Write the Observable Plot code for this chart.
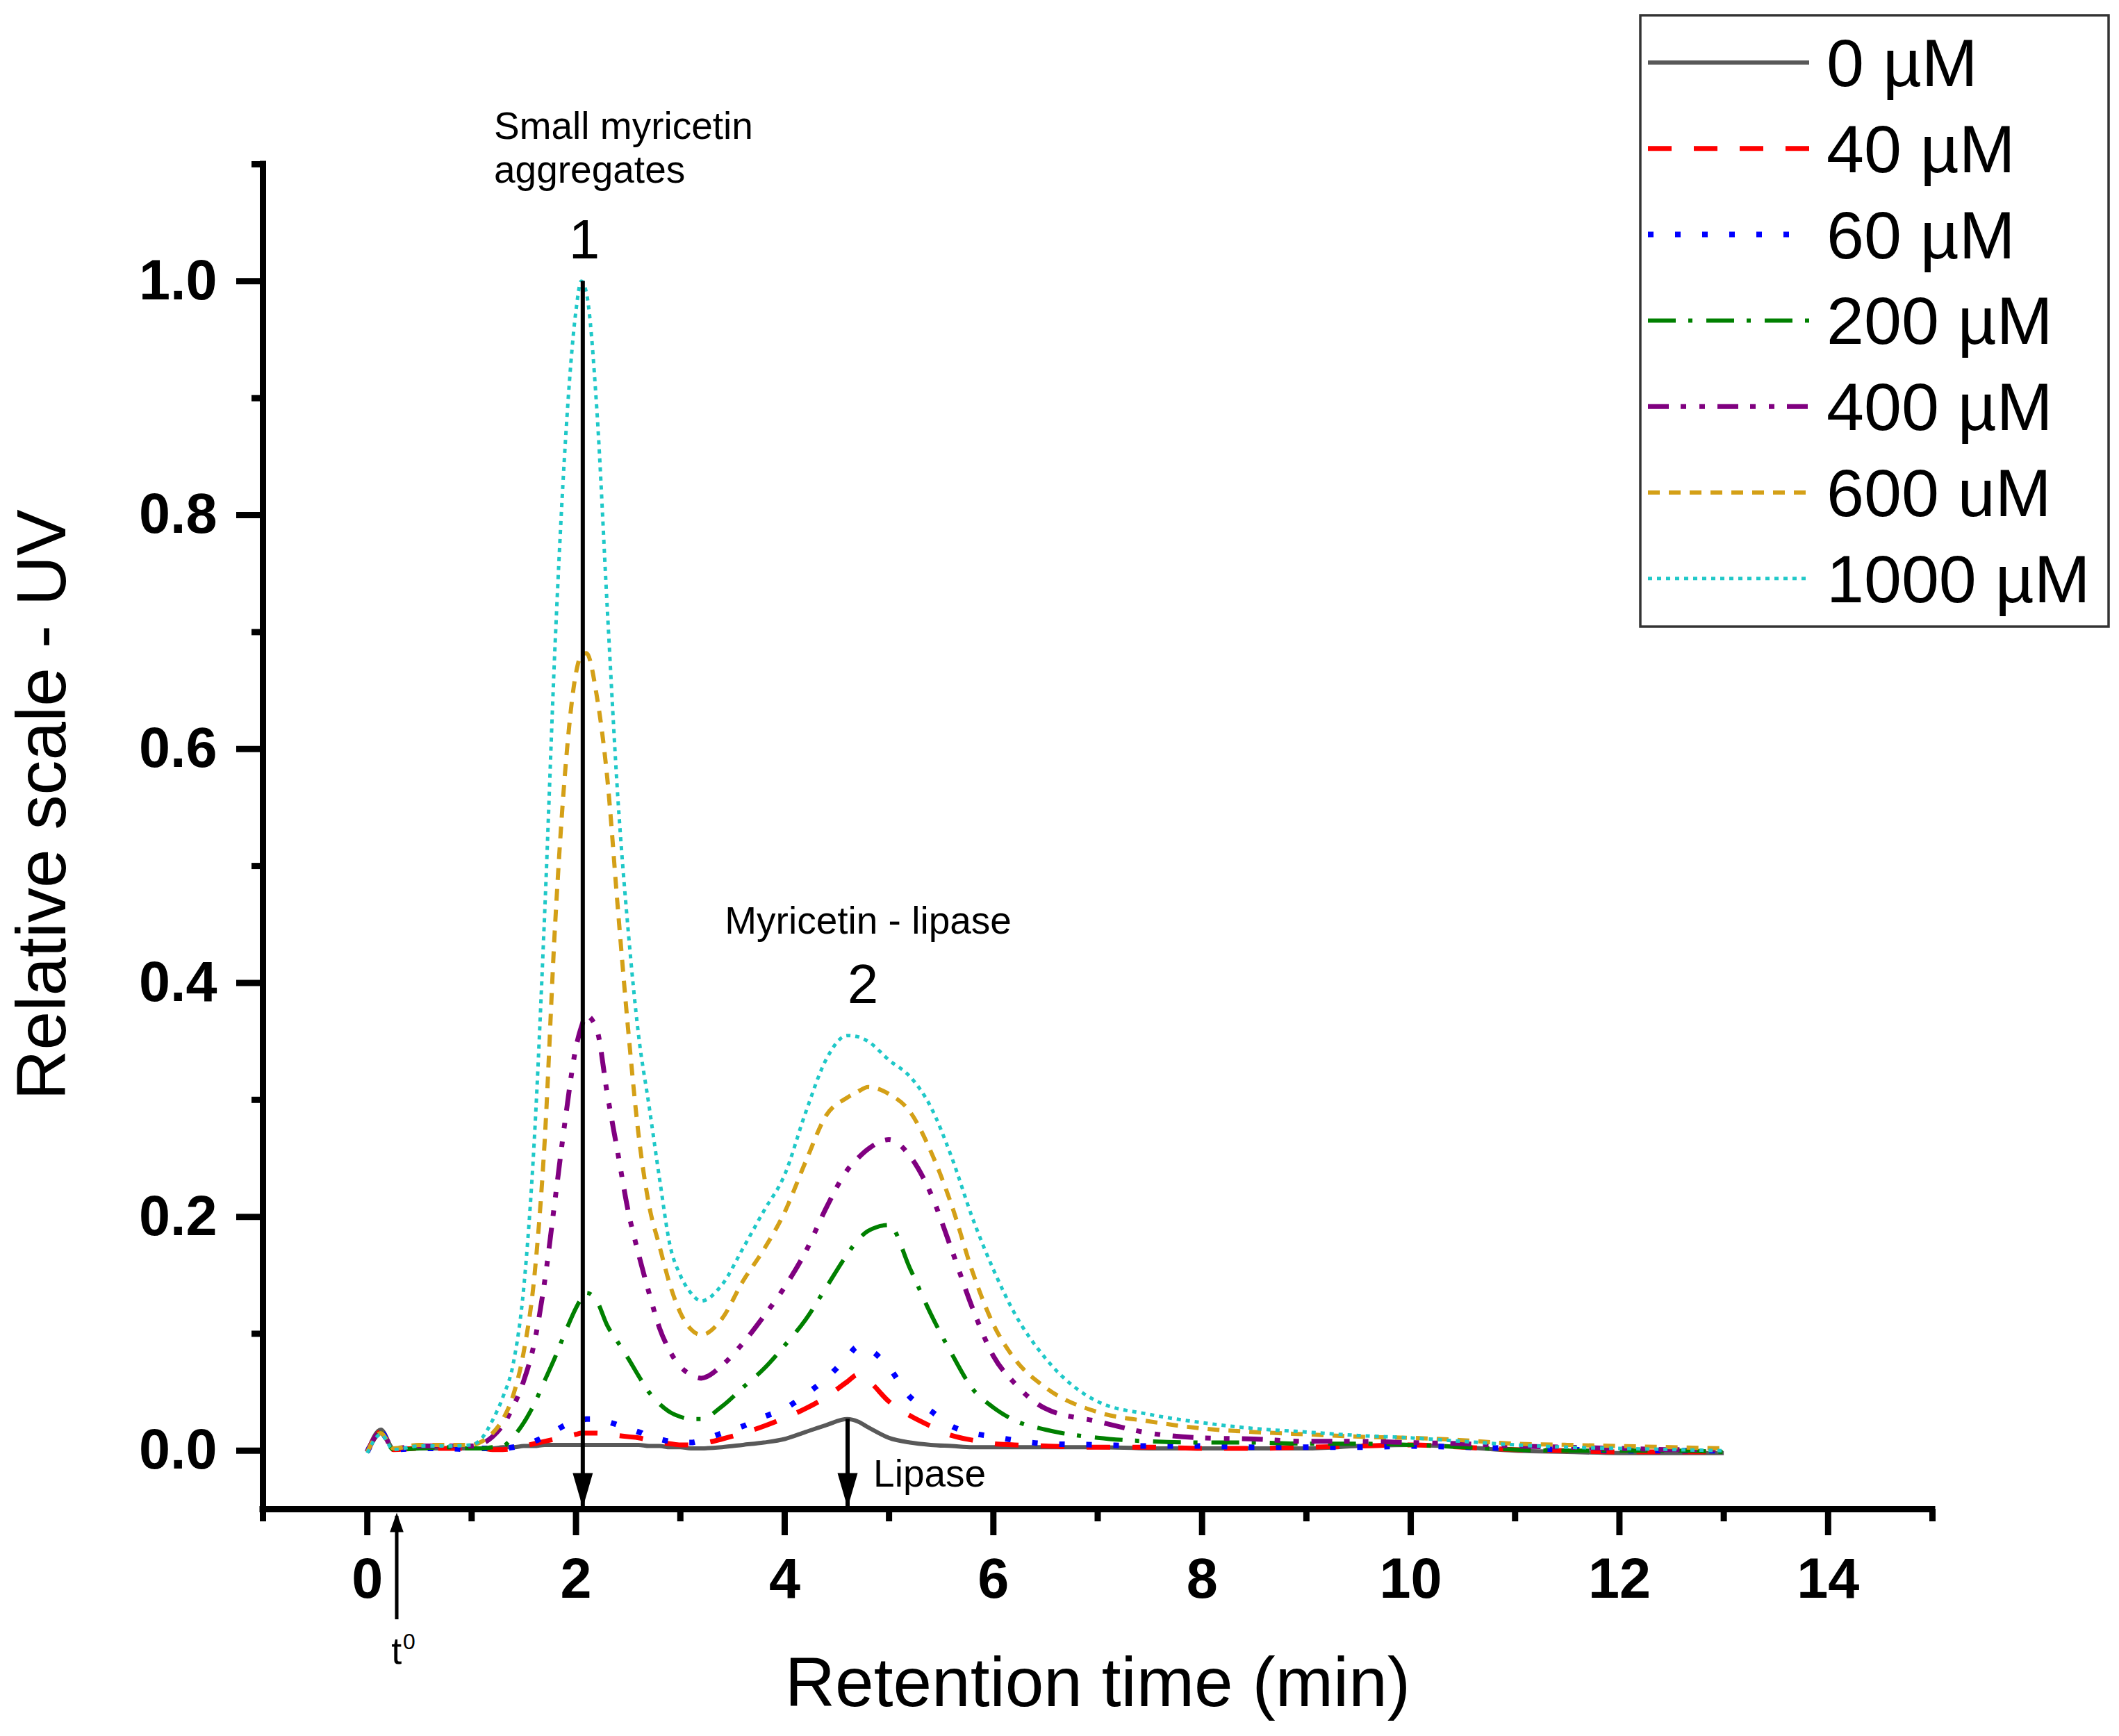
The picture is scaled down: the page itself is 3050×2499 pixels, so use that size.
<!DOCTYPE html>
<html>
<head>
<meta charset="utf-8">
<script src="https://cdn.jsdelivr.net/npm/d3@7"></script>
<script src="https://cdn.jsdelivr.net/npm/@observablehq/plot@0.6"></script>
<style>
  html, body { margin: 0; padding: 0; background: #fff; }
  #chart { position: relative; width: 3050px; height: 2499px; font-family: "Liberation Sans", Arial, sans-serif; }
  #chart svg { display: block; }
</style>
</head>
<body>
<div id="chart"></div>
<script>
// retention time grid (min)
const times = [0, 0.13, 0.25, 0.5, 0.75,
  1.0, 1.1, 1.2, 1.3, 1.4, 1.5, 1.6, 1.7, 1.8, 1.9, 2.0,
  2.05,
  2.1, 2.2, 2.3, 2.4, 2.5, 2.6, 2.7, 2.8, 2.9, 3.0, 3.1, 3.2,
  3.4, 3.6, 3.8, 4.0, 4.2, 4.4, 4.6,
  4.7,
  4.8, 5.0, 5.2, 5.4, 5.6, 5.8, 6.0, 6.2,
  6.5,
  7.0, 7.5, 8.0, 8.5, 9.0, 9.5, 10.0, 10.5, 11.0, 11.5, 12.0, 12.5, 13.0];

const uv0 = [-0.001, 0.018, 0.002, 0.002, 0.002,
  0.002, 0.002, 0.002, 0.003, 0.003, 0.004, 0.004, 0.005, 0.005, 0.005, 0.005,
  0.005,
  0.005, 0.005, 0.005, 0.005, 0.005, 0.005, 0.004, 0.004, 0.003, 0.003, 0.002, 0.002,
  0.003, 0.005, 0.007, 0.010, 0.016, 0.022, 0.027,
  0.025,
  0.020, 0.011, 0.007, 0.005, 0.004, 0.003, 0.003, 0.003,
  0.003,
  0.003, 0.002, 0.002, 0.002, 0.002, 0.004, 0.005, 0.003, 0.000, -0.001, -0.002, -0.002, -0.002];

const uv40 = [-0.001, 0.016, 0.001, 0.002, 0.002,
  0.002, 0.002, 0.001, 0.001, 0.002, 0.004, 0.006, 0.008, 0.010, 0.012, 0.014,
  0.015,
  0.015, 0.015, 0.014, 0.013, 0.012, 0.011, 0.009, 0.007, 0.006, 0.005, 0.005, 0.006,
  0.010, 0.015, 0.021, 0.028, 0.036, 0.046, 0.059,
  0.065,
  0.060, 0.042, 0.030, 0.021, 0.013, 0.009, 0.006, 0.005,
  0.004,
  0.003, 0.003, 0.002, 0.002, 0.003, 0.004, 0.005, 0.003, 0.001, 0.000, -0.001, -0.001, -0.001];

const uv60 = [-0.001, 0.016, 0.001, 0.002, 0.002,
  0.001, 0.002, 0.002, 0.002, 0.003, 0.005, 0.008, 0.012, 0.017, 0.022, 0.025,
  0.026,
  0.027, 0.027, 0.025, 0.022, 0.019, 0.016, 0.013, 0.010, 0.008, 0.007, 0.007, 0.009,
  0.015, 0.021, 0.029, 0.036, 0.048, 0.062, 0.080,
  0.089,
  0.087, 0.071, 0.046, 0.034, 0.021, 0.015, 0.012, 0.009,
  0.006,
  0.005, 0.004, 0.004, 0.003, 0.003, 0.003, 0.004, 0.003, 0.002, 0.001, 0.000, 0.000, 0.000];

const uv200 = [-0.001, 0.015, 0.001, 0.002, 0.003,
  0.002, 0.002, 0.003, 0.004, 0.012, 0.024, 0.040, 0.060, 0.080, 0.102, 0.122,
  0.130,
  0.135, 0.128, 0.107, 0.093, 0.079, 0.064, 0.050, 0.040, 0.033, 0.029, 0.027, 0.027,
  0.038, 0.054, 0.070, 0.090, 0.112, 0.140, 0.168,
  0.180,
  0.188, 0.193, 0.156, 0.117, 0.083, 0.053, 0.037, 0.026,
  0.018,
  0.011, 0.008, 0.007, 0.007, 0.006, 0.006, 0.005, 0.003, 0.001, 0.000, 0.000, 0.000, -0.001];

const uv400 = [-0.001, 0.016, 0.002, 0.004, 0.004,
  0.004, 0.006, 0.012, 0.022, 0.038, 0.060, 0.092, 0.145, 0.215, 0.285, 0.345,
  0.362,
  0.372, 0.360, 0.305, 0.255, 0.205, 0.168, 0.135, 0.105, 0.085, 0.072, 0.065, 0.062,
  0.073, 0.092, 0.115, 0.140, 0.170, 0.208, 0.240,
  0.250,
  0.258, 0.266, 0.252, 0.220, 0.172, 0.122, 0.081, 0.058,
  0.036,
  0.025, 0.015, 0.011, 0.010, 0.008, 0.008, 0.007, 0.006, 0.004, 0.003, 0.002, 0.001, 0.001];

const uv600 = [-0.001, 0.015, 0.002, 0.005, 0.005,
  0.005, 0.008, 0.015, 0.027, 0.048, 0.085, 0.148, 0.265, 0.450, 0.585, 0.665,
  0.680,
  0.682, 0.645, 0.575, 0.465, 0.360, 0.270, 0.210, 0.175, 0.142, 0.118, 0.104, 0.099,
  0.113, 0.145, 0.172, 0.204, 0.247, 0.287, 0.302,
  0.307,
  0.311, 0.305, 0.290, 0.256, 0.210, 0.153, 0.108, 0.079,
  0.054,
  0.033, 0.025, 0.019, 0.016, 0.014, 0.012, 0.011, 0.009, 0.006, 0.005, 0.004, 0.003, 0.002];

const uv1000 = [-0.002, 0.014, 0.001, 0.004, 0.004,
  0.005, 0.011, 0.026, 0.046, 0.075, 0.140, 0.265, 0.460, 0.690, 0.865, 0.975,
  1.000,
  0.990, 0.890, 0.720, 0.560, 0.445, 0.355, 0.295, 0.233, 0.176, 0.150, 0.135, 0.128,
  0.142, 0.173, 0.205, 0.236, 0.289, 0.335, 0.355,
  0.354,
  0.350, 0.334, 0.320, 0.294, 0.251, 0.199, 0.155, 0.118,
  0.079,
  0.042, 0.031, 0.024, 0.019, 0.016, 0.013, 0.011, 0.008, 0.005, 0.003, 0.002, 0.001, 0.000];

const seriesLabels = ["0 µM", "40 µM", "60 µM", "200 µM", "400 µM", "600 uM", "1000 µM"];
const seriesValues = [uv0, uv40, uv60, uv200, uv400, uv600, uv1000];

// ticks
const xMajor = [0, 2, 4, 6, 8, 10, 12, 14];
const xMinor = [-1, 1, 3, 5, 7, 9, 11, 13, 15];
const yMajor = [0, 0.2, 0.4, 0.6, 0.8, 1.0];
const yMinor = [0.1, 0.3, 0.5, 0.7, 0.9, 1.1];

// annotations (data units)
const arrowTimes = [2.065, 4.603];
const arrowTops = [1.0, 0.027];
const t0Time = 0.282;

// styles
const seriesColors = ["#595959", "#ff0000", "#0000ff", "#008000", "#800080", "#d4a017", "#1fc8c8"];
const seriesWidths = [6, 7, 8, 6, 7, 6, 5];
const seriesDashes = [undefined, "34,32", "8,31", "40,18,6,20", "30,17,8,19,8,18", "17,13", "6,7"];

const xDomain = [-1, 15];
const yDomain = [-0.05, 1.1];
const fontFamily = '"Liberation Sans", Arial, sans-serif';

const headDown = {
  draw(ctx, size) {
    const r = Math.sqrt(size / Math.PI);
    ctx.moveTo(0, r);
    ctx.lineTo(-0.58 * r, -r);
    ctx.lineTo(0.58 * r, -r);
    ctx.closePath();
  }
};
const headUp = {
  draw(ctx, size) {
    const r = Math.sqrt(size / Math.PI);
    ctx.moveTo(0, -r);
    ctx.lineTo(-0.7 * r, r);
    ctx.lineTo(0.7 * r, r);
    ctx.closePath();
  }
};

function drawChart() {
  const chartDiv = document.getElementById("chart");

  const lineMarks = seriesValues.map((vals, s) => {
    const rows = times.map((t, i) => ({t: t, v: vals[i]}));
    return Plot.line(rows, {
      x: "t",
      y: "v",
      stroke: seriesColors[s],
      strokeWidth: seriesWidths[s],
      strokeDasharray: seriesDashes[s],
      strokeLinecap: "butt",
      strokeLinejoin: "round",
      curve: "monotone-x"
    });
  });

  const arrowRows = arrowTimes.map((t, i) => ({t: t, top: arrowTops[i]}));

  const chart = Plot.plot({
    width: 3050,
    height: 2499,
    marginLeft: 378,
    marginRight: 269,
    marginTop: 236,
    marginBottom: 327,
    style: {fontFamily: fontFamily, background: "white", color: "black"},
    x: {domain: xDomain, label: null},
    y: {domain: yDomain, label: null},
    marks: [
      ...lineMarks,

      // arrows 1 and 2
      Plot.ruleX(arrowRows, {x: "t", y1: "top", y2: yDomain[0], stroke: "black", strokeWidth: 6}),
      Plot.dot(arrowRows, {x: "t", y: yDomain[0], symbol: headDown, r: 25, fill: "black", stroke: "none", dy: -27}),

      // t0 arrow below the axis
      Plot.ruleX([t0Time], {y1: -0.056, y2: -0.1445, stroke: "black", strokeWidth: 5}),
      Plot.dot([t0Time], {x: d => d, y: yDomain[0], symbol: headUp, r: 14, fill: "black", stroke: "none", dy: 19}),

      // axis lines
      Plot.ruleY([yDomain[0]], {x1: xDomain[0], x2: xDomain[1], stroke: "black", strokeWidth: 9, strokeLinecap: "square"}),
      Plot.ruleX([xDomain[0]], {y1: yDomain[0], y2: yDomain[1], stroke: "black", strokeWidth: 9, strokeLinecap: "square"}),

      // ticks
      Plot.axisX(xMajor, {anchor: "bottom", tickSize: 38, tickPadding: 32, tickFormat: d3.format("d"),
        fontSize: 81, fontWeight: "bold", strokeWidth: 9, label: null}),
      Plot.axisX(xMinor, {anchor: "bottom", tickSize: 18, strokeWidth: 9, fill: "none", label: null}),
      Plot.axisY(yMajor, {anchor: "left", tickSize: 38, tickPadding: 28, tickFormat: d3.format(".1f"),
        fontSize: 81, fontWeight: "bold", strokeWidth: 9, label: null}),
      Plot.axisY(yMinor, {anchor: "left", tickSize: 16, strokeWidth: 9, fill: "none", label: null}),

      // axis titles
      Plot.text(["Retention time (min)"], {text: d => d, frameAnchor: "bottom", dy: 283, lineAnchor: "bottom",
        textAnchor: "middle", fontSize: 100, fill: "black"}),
      Plot.text(["Relative scale - UV"], {text: d => d, frameAnchor: "left", dx: -317, dy: -46, rotate: -90,
        textAnchor: "middle", lineAnchor: "middle", fontSize: 100, fill: "black"}),

      // annotations
      Plot.text(["Small myricetin\naggregates"], {text: d => d, x: 1.214, y: 1.0844, textAnchor: "start",
        lineAnchor: "bottom", lineHeight: 1.15, fontSize: 55, fill: "black"}),
      Plot.text(["1"], {text: d => d, x: 2.08, y: 1.0196, lineAnchor: "bottom", fontSize: 80, fill: "black"}),
      Plot.text(["Myricetin - lipase"], {text: d => d, x: 4.80, y: 0.4423, lineAnchor: "bottom", fontSize: 55, fill: "black"}),
      Plot.text(["2"], {text: d => d, x: 4.75, y: 0.383, lineAnchor: "bottom", fontSize: 80, fill: "black"}),
      Plot.text(["Lipase"], {text: d => d, x: 4.85, y: -0.0309, textAnchor: "start", lineAnchor: "bottom", fontSize: 55, fill: "black"}),
      Plot.text(["t"], {text: d => d, x: 0.23, y: -0.182, textAnchor: "start", lineAnchor: "bottom", fontSize: 54, fill: "black"}),
      Plot.text(["0"], {text: d => d, x: 0.342, y: -0.1694, textAnchor: "start", lineAnchor: "bottom", fontSize: 32, fill: "black"})
    ]
  });

  chartDiv.appendChild(chart);

  // legend box, top right
  const legend = d3.select(chartDiv).append("svg")
    .attr("width", 680)
    .attr("height", 886)
    .style("position", "absolute")
    .style("left", "2358px")
    .style("top", "19px");

  legend.append("rect")
    .attr("x", 3).attr("y", 3)
    .attr("width", 674).attr("height", 880)
    .attr("fill", "white")
    .attr("stroke", "#333")
    .attr("stroke-width", 3.5);

  seriesLabels.forEach((label, i) => {
    const cy = 71 + i * 123.8;
    legend.append("line")
      .attr("x1", 14).attr("x2", 246)
      .attr("y1", cy).attr("y2", cy)
      .attr("stroke", seriesColors[i])
      .attr("stroke-width", seriesWidths[i])
      .attr("stroke-dasharray", seriesDashes[i] || null);
    legend.append("text")
      .attr("x", 271)
      .attr("y", cy + 34)
      .attr("fill", "black")
      .style("font-family", fontFamily)
      .style("font-size", "97px")
      .text(label);
  });
}

window.onload = function() {
  drawChart();
};
</script>
</body>
</html>
